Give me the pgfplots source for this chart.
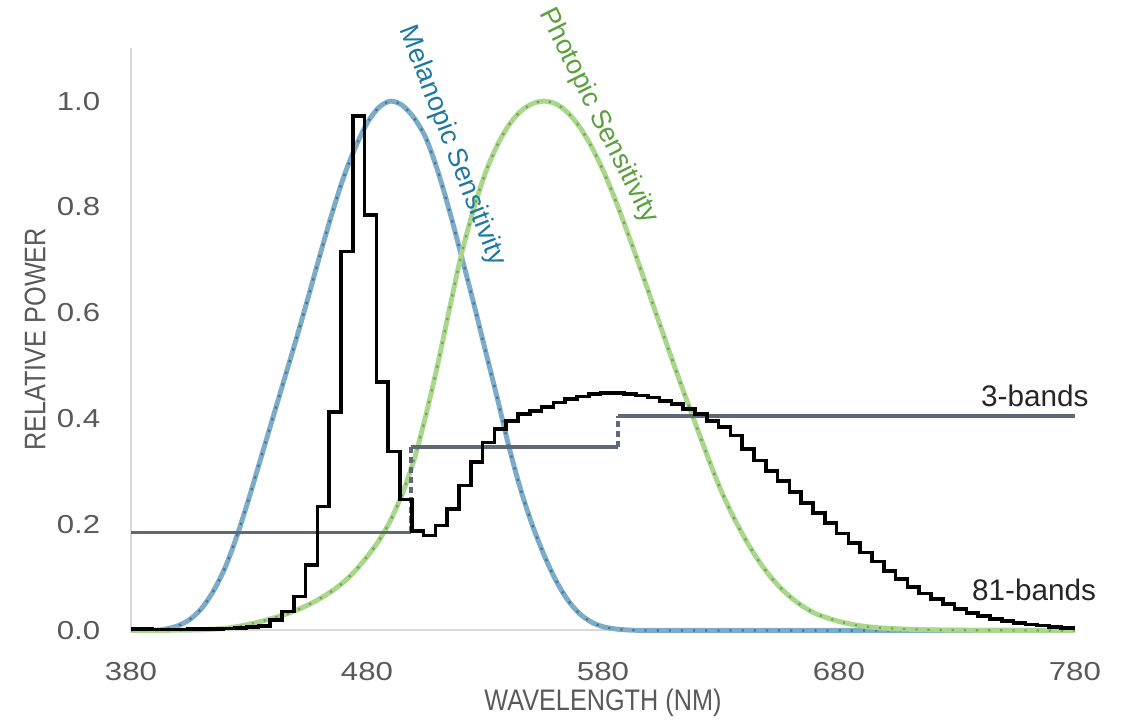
\documentclass[border=0pt]{standalone}
\usepackage{fontspec}
\setmainfont{Liberation Sans}
\newfontfamily\condfont[FakeStretch=0.85]{Liberation Sans}
\newfontfamily\widefont[FakeStretch=1.2]{Liberation Sans}
\usepackage{pgfplots}
\usepackage{pgfplotstable}
\pgfplotsset{compat=1.18}

\definecolor{melblue}{RGB}{125,172,200}
\definecolor{meldot}{RGB}{70,118,148}
\definecolor{meltext}{RGB}{30,120,160}
\definecolor{phogreen}{RGB}{170,215,140}
\definecolor{phodot}{RGB}{112,165,90}
\definecolor{photext}{RGB}{90,160,60}
\definecolor{bandgray}{RGB}{95,104,118}
\definecolor{axgray}{RGB}{217,217,217}
\definecolor{lblgray}{RGB}{89,89,89}

% melanopic sensitivity
\pgfplotstableread{
wl   s
380  0.000
390  0.000
395  0.003
400  0.009
405  0.021
410  0.042
415  0.075
420  0.120
425  0.180
430  0.250
435  0.325
440  0.400
445  0.475
450  0.550
455  0.628
460  0.708
465  0.785
470  0.855
475  0.912
480  0.958
485  0.988
490  1.000
495  0.992
500  0.968
505  0.930
510  0.868
515  0.792
520  0.708
525  0.622
530  0.532
535  0.443
540  0.350
545  0.268
550  0.200
555  0.143
560  0.095
565  0.058
570  0.032
575  0.016
580  0.007
585  0.003
590  0.001
600  0.000
650  0.000
700  0.000
780  0.000
}\melanopic

% photopic sensitivity
\pgfplotstableread{
wl   s
380  0.00004
390  0.00012
400  0.0004
410  0.0012
420  0.004
425  0.0073
430  0.0116
435  0.0168
440  0.023
445  0.0298
450  0.038
455  0.048
460  0.060
465  0.0739
470  0.091
475  0.1126
480  0.139
485  0.1693
490  0.208
495  0.2586
500  0.323
505  0.4073
510  0.503
515  0.6082
520  0.710
525  0.7932
530  0.862
535  0.9148
540  0.954
545  0.9803
550  0.995
555  1.000
560  0.995
565  0.9786
570  0.952
575  0.9154
580  0.870
585  0.8163
590  0.757
595  0.6949
600  0.631
605  0.5668
610  0.503
615  0.4412
620  0.381
625  0.321
630  0.265
635  0.217
640  0.175
645  0.1382
650  0.107
655  0.0816
660  0.061
665  0.0446
670  0.032
675  0.0237
680  0.017
685  0.0119
690  0.0082
695  0.0057
700  0.0041
710  0.0021
720  0.0010
740  0.0002
780  0.0000
}\photopic

% 81 bands, left edge of each band
\pgfplotstableread{
wl   p
380  0.003
384  0.003
389  0.002
394  0.002
399  0.002
404  0.003
409  0.003
414  0.003
419  0.004
424  0.005
429  0.006
434  0.008
439  0.020
444  0.036
449  0.064
454  0.124
459  0.234
464  0.413
469  0.716
474  0.972
479  0.785
484  0.469
489  0.338
494  0.247
499  0.188
504  0.179
509  0.198
514  0.229
519  0.274
524  0.318
529  0.355
534  0.381
539  0.396
544  0.409
549  0.415
554  0.422
559  0.431
564  0.437
569  0.442
574  0.447
579  0.449
584  0.449
589  0.447
594  0.444
599  0.440
604  0.434
609  0.428
614  0.418
619  0.409
624  0.396
629  0.384
634  0.368
639  0.343
644  0.321
649  0.301
654  0.282
659  0.262
664  0.241
669  0.222
674  0.203
679  0.183
684  0.165
689  0.147
694  0.130
699  0.112
704  0.097
709  0.082
714  0.070
719  0.059
724  0.050
729  0.040
734  0.033
739  0.027
744  0.022
749  0.018
754  0.014
759  0.011
764  0.009
769  0.007
774  0.005
780  0.005
}\bandsmany

\begin{document}
\begin{tikzpicture}
\path[use as bounding box] (-18.6mm,-13.35mm) rectangle (141.4mm,89.5mm);
\begin{axis}[
    scale only axis,
    width=134mm, height=82.65mm,
    xmin=380, xmax=780, ymin=0, ymax=1.1,
    axis lines*=left,
    axis line style={axgray, line width=0.8pt},
    clip=false,
    xtick={380,480,580,680,780},
    ytick={0,0.2,0.4,0.6,0.8,1.0},
    major tick length=0pt,
    /pgf/number format/assume math mode=true,
    ticklabel style={font=\widefont\fontsize{10.5}{12}\selectfont, text=lblgray},
    yticklabel style={anchor=east, inner sep=0pt, xshift=-4.3mm,
        /pgf/number format/.cd, fixed, fixed zerofill, precision=1},
    xticklabel style={anchor=north, inner sep=0pt, yshift=-4.5mm},
    xlabel={WAVELENGTH (NM)},
    ylabel={RELATIVE POWER},
    xlabel style={at={(axis description cs:0.5,-0.125)}, anchor=center,
        font=\condfont\fontsize{12}{14}\selectfont, text=lblgray},
    ylabel style={at={(axis description cs:-0.1015,0.5)}, anchor=center, rotate=0,
        font=\condfont\fontsize{12}{14}\selectfont, text=lblgray},
]
% sensitivity curves: light thick line with darker dots on top
\addplot[melblue, line width=2pt, smooth] table[x=wl, y=s] {\melanopic};
\addplot[meldot, line width=0.9pt, smooth, dash pattern=on 0.9pt off 4pt] table[x=wl, y=s] {\melanopic};
\addplot[phogreen, line width=2pt, smooth] table[x=wl, y=s] {\photopic};
\addplot[phodot, line width=0.9pt, smooth, dash pattern=on 0.9pt off 4pt] table[x=wl, y=s] {\photopic};

% 3 bands
\addplot[bandgray, line width=1.6pt] coordinates {(380,0.185) (498.5,0.185)};
\addplot[bandgray, line width=1.6pt] coordinates {(498.5,0.346) (586.5,0.346)};
\addplot[bandgray, line width=1.6pt] coordinates {(586.5,0.406) (780,0.406)};
\addplot[bandgray, line width=1.6pt, dash pattern=on 2.5pt off 1.5pt] coordinates {(498.5,0.185) (498.5,0.346)};
\addplot[bandgray, line width=1.6pt, dash pattern=on 2.5pt off 1.5pt] coordinates {(586.5,0.346) (586.5,0.406)};

% 81 bands
\addplot[black, line width=1.45pt, const plot mark left] table[x=wl, y=p] {\bandsmany};

\node[rotate=-69, text=meltext, font=\fontsize{11}{13}\selectfont] at (axis cs:516,0.915) {Melanopic Sensitivity};
\node[rotate=-63.5, text=photext, font=\fontsize{11}{13}\selectfont] at (axis cs:578,0.972) {Photopic Sensitivity};
\node[text=black!85, font=\fontsize{12}{14}\selectfont] at (axis cs:763,0.444) {3-bands};
\node[text=black!85, font=\fontsize{12}{14}\selectfont] at (axis cs:762.7,0.0775) {81-bands};
\end{axis}
\end{tikzpicture}
\end{document}
